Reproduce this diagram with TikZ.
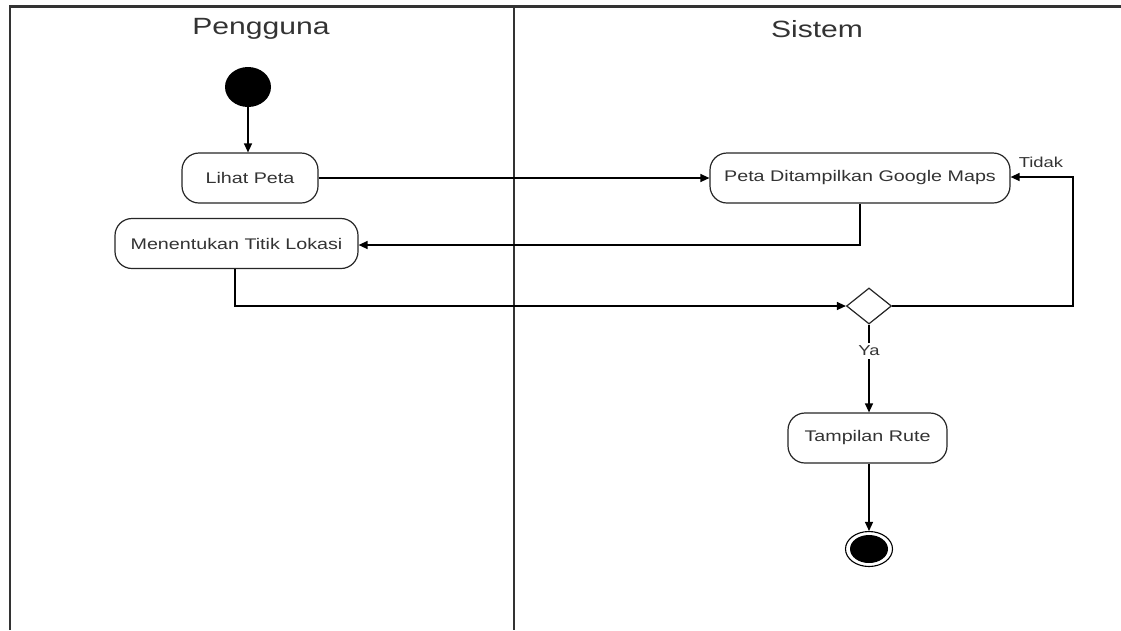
\documentclass[tikz,border=0pt]{standalone}
\usepackage{fontspec}
\setmainfont{Liberation Sans}
\usetikzlibrary{shapes.geometric,arrows.meta}
\newcommand{\hx}[1]{\scalebox{1.28}[1]{#1}}
\tikzset{
  lane/.style={line width=2.6pt,draw=black!80},
  act/.style={draw=black!85,line width=1.2pt,rounded corners=17pt,fill=white,minimum height=50pt,font=\fontsize{15.4}{18}\selectfont,text=black!80,inner sep=0pt},
  arr/.style={draw=black,line width=1.3pt,-{Triangle[length=9pt,width=8pt]}},
  conn/.style={draw=black,line width=1.3pt},
  lbl/.style={font=\fontsize{14.4}{17}\selectfont,text=black!80,inner sep=1pt},
  lanelbl/.style={font=\fontsize{23.5}{28}\selectfont,text=black!80}
}
\begin{document}
\begin{tikzpicture}[x=1pt,y=-1pt]
\useasboundingbox (0,0) rectangle (1121,630);
% swimlanes
\draw[lane] (10,630) -- (10,6.5) -- (1121,6.5);
\draw[lane] (514,6.5) -- (514,630);
\node[lanelbl] (lp) at (261,29) {\hx{Pengguna}};
\node[lanelbl] (ls) at (817,29) {\hx{Sistem}};
% nodes
\node[ellipse,fill=black,minimum width=46pt,minimum height=40pt,inner sep=0pt] (start) at (248,87) {};
\node[act,minimum width=136pt] (lihat) at (250,178) {\hx{Lihat Peta}};
\node[act,minimum width=243pt] (menentukan) at (236.5,243.5) {\hx{Menentukan Titik Lokasi}};
\node[act,minimum width=300pt] (peta) at (860,178) {\hx{Peta Ditampilkan Google Maps}};
\node[diamond,draw=black!85,line width=1.2pt,minimum width=45pt,minimum height=36pt,inner sep=0pt,fill=white] (dec) at (869,306) {};
\node[act,minimum width=159pt] (rute) at (867.5,438) {\hx{Tampilan Rute}};
\node[ellipse,draw=black,line width=1.1pt,minimum width=47pt,minimum height=35pt,inner sep=0pt] (end) at (869,549) {};
\node[ellipse,fill=black,minimum width=38pt,minimum height=28pt,inner sep=0pt] (endin) at (869,549) {};
\coordinate (tk) at (1073,177);
% connectors
\draw[arr] (start.south) -- (start.south |- lihat.north);
\draw[arr] (lihat.east) -- (lihat.east -| peta.west);
\draw[arr] (peta.south) |- (menentukan.east |- 0,245) ;
\draw[arr] (menentukan.south -| 235,0) |- (dec.west);
\draw[arr] (dec.east) -| (tk) -- (peta.east |- tk);
\node[lbl] (tidak) at (1041,162) {\hx{Tidak}};
\draw[arr] (dec.south) -- node[lbl,fill=white,pos=0.3,inner sep=3pt] (ya) {\hx{Ya}} (rute.north -| dec.south);
\draw[arr] (rute.south -| end.north) -- (end.north);
\end{tikzpicture}
\end{document}
